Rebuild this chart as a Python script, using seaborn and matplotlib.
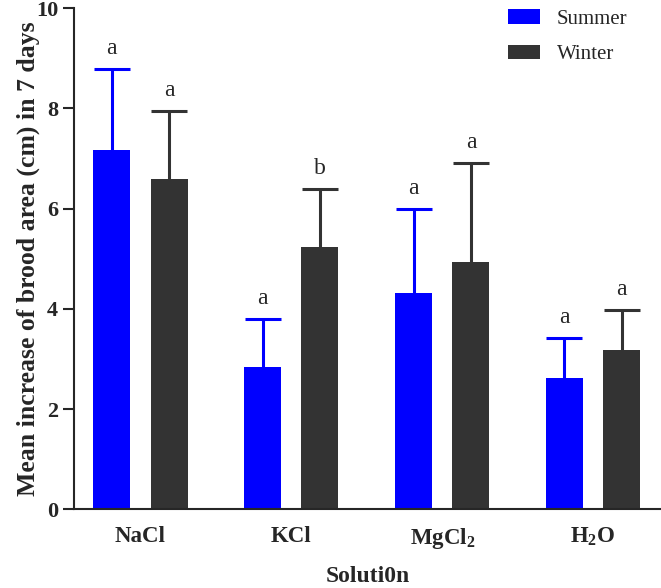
# libraries
import numpy as np
import pandas as pd
import matplotlib
matplotlib.use('Agg')
import matplotlib.pyplot as plt
import seaborn as sns

# data
solutions = ['NaCl', 'KCl', 'MgCl$_2$', 'H$_2$O']
seasons = ['Summer', 'Winter']
summer_mean = [7.17, 2.83, 4.31, 2.61]
winter_mean = [6.59, 5.23, 4.93, 3.17]
summer_sd = [1.61, 0.96, 1.68, 0.80]
winter_sd = [1.35, 1.16, 1.98, 0.80]
summer_letters = ['a', 'a', 'a', 'a']
winter_letters = ['a', 'b', 'a', 'a']
colors = ['#0000FF', '#333333']

data = pd.DataFrame({
    'Solution': solutions * 2,
    'Season': ['Summer'] * 4 + ['Winter'] * 4,
    'Mean': summer_mean + winter_mean,
})

# style
sns.set_style('ticks')
plt.rcParams['font.family'] = ['Liberation Serif', 'DejaVu Serif']
plt.rcParams['mathtext.fontset'] = 'custom'
plt.rcParams['mathtext.rm'] = 'Liberation Serif:bold'
plt.rcParams['mathtext.it'] = 'Liberation Serif:bold'
plt.rcParams['mathtext.bf'] = 'Liberation Serif:bold'

fig = plt.figure(figsize=(6.61, 5.88), dpi=100)
ax = fig.add_axes([0.112, 0.134, 0.888, 0.852])

sns.barplot(data=data, x='Solution', y='Mean', hue='Season', hue_order=seasons,
            palette=colors, saturation=1, errorbar=None, width=0.76, gap=0.355,
            linewidth=0, ax=ax)

# upper error bars (no lower cap) + significance letters
for container, sd, letters, col in zip(list(ax.containers), [summer_sd, winter_sd],
                                       [summer_letters, winter_letters], colors):
    xs = [p.get_x() + p.get_width() / 2 for p in container.patches]
    hs = [p.get_height() for p in container.patches]
    eb = ax.errorbar(xs, hs, yerr=[np.zeros(len(sd)), sd], fmt='none', ecolor=col,
                     elinewidth=2.2, capsize=13, capthick=2.2, zorder=1)
    eb[1][0].remove()
    for x, h, s, l in zip(xs, hs, sd, letters):
        ax.text(x, h + s + 0.3, l, ha='center', va='baseline', fontsize=17)

ax.set_xlim(-0.44, 3.45)
ax.set_ylim(0, 10)
ax.set_yticks([0, 2, 4, 6, 8, 10])
ax.tick_params(axis='y', length=8, width=1.5, labelsize=16)
ax.tick_params(axis='x', length=0, labelsize=16.5, pad=12)
for lbl in ax.get_xticklabels() + ax.get_yticklabels():
    lbl.set_fontweight('bold')
sns.despine(ax=ax)
for s in ['left', 'bottom']:
    ax.spines[s].set_linewidth(1.5)

ax.set_xlabel('Soluti0n', fontsize=17, fontweight='bold', labelpad=11)
ax.set_ylabel('Mean increase of brood area (cm) in 7 days', fontsize=18.5,
              fontweight='bold', labelpad=-3)

ax.legend(loc='upper left', bbox_to_anchor=(0.739, 0.998), frameon=False,
          fontsize=15, borderpad=0, borderaxespad=0, handlelength=1.55,
          handleheight=0.72, handletextpad=0.8, labelspacing=0.75)

fig.savefig('out.png', dpi=100)
